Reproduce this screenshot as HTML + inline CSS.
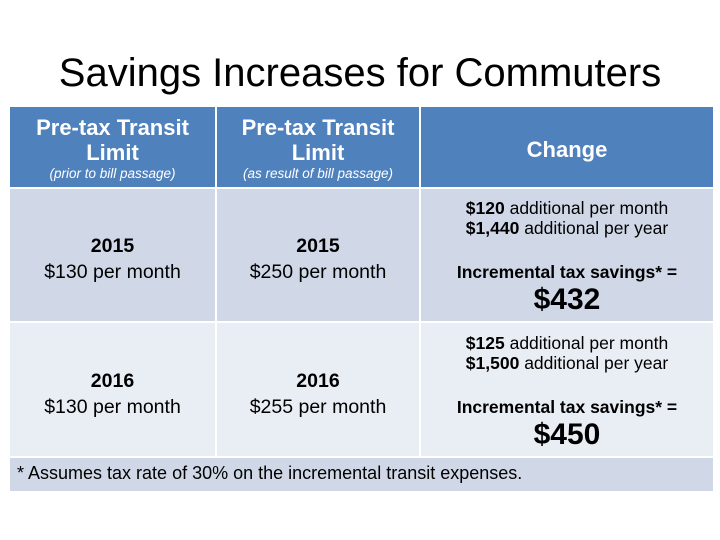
<!DOCTYPE html>
<html><head><style>
body{margin:0;width:720px;height:540px;background:#fff;font-family:"Liberation Sans",sans-serif;position:relative;overflow:hidden}
.a{position:absolute}
.c{position:absolute;display:flex;flex-direction:column;align-items:center;justify-content:center;text-align:center;color:#000}
.h{color:#fff;font-weight:bold;font-size:22px;line-height:25px}
.s{font-size:13.5px;font-style:italic;font-weight:normal;line-height:18px}
.y{font-size:19.5px;line-height:26px}
.ch{font-size:17.5px;line-height:20px}
</style></head><body>
<div class="a" style="left:0;top:48px;width:720px;text-align:center;font-size:40px;line-height:50px">Savings Increases for Commuters</div>
<div class="a" style="left:10px;top:107px;width:703px;height:80px;background:#4f81bd"></div>
<div class="a" style="left:10px;top:189px;width:703px;height:132px;background:#d0d8e8"></div>
<div class="a" style="left:10px;top:323px;width:703px;height:133px;background:#e9edf4"></div>
<div class="a" style="left:10px;top:458px;width:703px;height:33px;background:#d0d8e8"></div>
<div class="a" style="left:215px;top:107px;width:2px;height:349px;background:#fff"></div>
<div class="a" style="left:419px;top:107px;width:2px;height:349px;background:#fff"></div>
<div class="c h" style="left:10px;top:109px;width:205px;height:80px"><div>Pre-tax Transit<br>Limit</div><div class="s">(prior to bill passage)</div></div>
<div class="c h" style="left:217px;top:109px;width:202px;height:80px"><div>Pre-tax Transit<br>Limit</div><div class="s">(as result of bill passage)</div></div>
<div class="c h" style="left:421px;top:109px;width:292px;height:80px">Change</div>
<div class="c y" style="left:10px;top:193px;width:205px;height:132px"><b>2015</b>$130 per month</div>
<div class="c y" style="left:217px;top:193px;width:202px;height:132px"><b>2015</b>$250 per month</div>
<div class="c y" style="left:10px;top:327px;width:205px;height:133px"><b>2016</b>$130 per month</div>
<div class="c y" style="left:217px;top:327px;width:202px;height:133px"><b>2016</b>$255 per month</div>
<div class="c ch" style="left:421px;top:198px;width:292px;height:124px;justify-content:flex-start"><div><b>$120</b> additional per month</div><div><b>$1,440</b> additional per year</div><div style="height:24px"></div><div><b>Incremental tax savings* =</b></div><div style="font-size:30px;line-height:36px;font-weight:bold">$432</div></div>
<div class="c ch" style="left:421px;top:333px;width:292px;height:124px;justify-content:flex-start"><div><b>$125</b> additional per month</div><div><b>$1,500</b> additional per year</div><div style="height:24px"></div><div><b>Incremental tax savings* =</b></div><div style="font-size:30px;line-height:36px;font-weight:bold">$450</div></div>
<div class="a" style="left:17px;top:462px;font-size:18px;line-height:22px">* Assumes tax rate of 30% on the incremental transit expenses.</div>
</body></html>
